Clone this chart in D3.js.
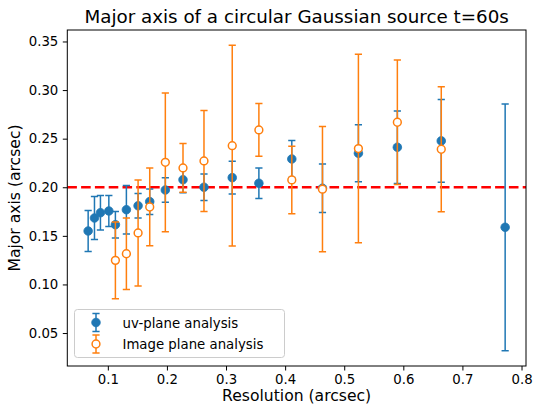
<!DOCTYPE html>
<html>
<head>
<meta charset="utf-8">
<script src="https://cdn.jsdelivr.net/npm/d3@7"></script>
<style>
  html, body { margin: 0; padding: 0; background: #fff; }
  svg { display: block; }
  text { font-family: "DejaVu Sans", sans-serif; fill: #000; }
</style>
</head>
<body>
<svg id="chart" width="535" height="408"></svg>
<script>
// Resolution (arcsec) of each uv-plane measurement
const uvResolution = [0.0667, 0.0774, 0.0875, 0.1017, 0.1128, 0.1314, 0.1512, 0.1709,
  0.1973, 0.2272, 0.2627, 0.3105, 0.3556, 0.4113, 0.4632, 0.524, 0.5899, 0.6642, 0.7723];
// Fitted major axis (arcsec) and 1-sigma error, uv-plane analysis
const uvMajor = [0.155, 0.1684, 0.1738, 0.1756, 0.1615, 0.1769, 0.181, 0.1852,
  0.1972, 0.2078, 0.200, 0.2099, 0.2041, 0.2291, 0.199, 0.235, 0.2412, 0.2477, 0.1588];
const uvError = [0.0211, 0.0221, 0.0177, 0.016, 0.0136, 0.025, 0.0126, 0.0131,
  0.0127, 0.0134, 0.0136, 0.0168, 0.0157, 0.019, 0.025, 0.0293, 0.0373, 0.0425, 0.127];

// Resolution (arcsec) of each image-plane measurement
const imgResolution = [0.1128, 0.1314, 0.1512, 0.1709, 0.1973, 0.2272, 0.2627, 0.3105,
  0.3556, 0.4113, 0.4632, 0.524, 0.5899, 0.6642];
// Fitted major axis (arcsec) and 1-sigma error, image-plane analysis
const imgMajor = [0.1248, 0.1316, 0.153, 0.1797, 0.2257, 0.2199, 0.2271, 0.2428,
  0.259, 0.2075, 0.198, 0.2398, 0.2669, 0.2391];
const imgError = [0.0395, 0.0368, 0.0545, 0.04, 0.0714, 0.025, 0.052, 0.1033,
  0.0271, 0.0347, 0.0644, 0.097, 0.064, 0.0642];

// True source size
const trueMajor = 0.2;

const xTicks = [0.1, 0.2, 0.3, 0.4, 0.5, 0.6, 0.7, 0.8];
const yTicks = [0.05, 0.10, 0.15, 0.20, 0.25, 0.30, 0.35];

const titleText = "Major axis of a circular Gaussian source t=60s";
const xLabel = "Resolution (arcsec)";
const yLabel = "Major axis (arcsec)";
const seriesNames = ["uv-plane analysis", "Image plane analysis"];

const BLUE = "#1f77b4", ORANGE = "#ff7f0e";

const uvData = uvResolution.map((x, i) => ({x, y: uvMajor[i], e: uvError[i]}));
const imgData = imgResolution.map((x, i) => ({x, y: imgMajor[i], e: imgError[i]}));

const plot = {left: 67.3, right: 526, top: 30, bottom: 366};

// Axis limits: data extent with a 5% margin on each side
function padded(lo, hi) { const p = (hi - lo) * 0.05; return [lo - p, hi + p]; }
const all = uvData.concat(imgData);
const xDom = padded(d3.min(all, d => d.x), d3.max(all, d => d.x));
const yDom = padded(d3.min(all, d => d.y - d.e), d3.max(all, d => d.y + d.e));

const x = d3.scaleLinear().domain(xDom).range([plot.left, plot.right]);
const y = d3.scaleLinear().domain(yDom).range([plot.bottom, plot.top]);

const svg = d3.select("#chart");

svg.append("defs").append("clipPath").attr("id", "plotclip")
  .append("rect").attr("x", plot.left).attr("y", plot.top)
  .attr("width", plot.right - plot.left).attr("height", plot.bottom - plot.top);

// Axes
const xAxis = d3.axisBottom(x).tickValues(xTicks).tickFormat(d3.format(".1f"))
  .tickSizeInner(4.5).tickSizeOuter(0).tickPadding(4.5);
const yAxis = d3.axisLeft(y).tickValues(yTicks).tickFormat(d3.format(".2f"))
  .tickSizeInner(4.5).tickSizeOuter(0).tickPadding(4.5);

const gx = svg.append("g").attr("transform", `translate(0,${plot.bottom})`).call(xAxis);
const gy = svg.append("g").attr("transform", `translate(${plot.left},0)`).call(yAxis);
[gx, gy].forEach(g => {
  g.select(".domain").remove();
  g.selectAll(".tick line").attr("stroke", "#000").attr("stroke-width", 1);
  g.selectAll(".tick text").attr("font-size", 13.3).attr("font-family", "DejaVu Sans").attr("fill", "#000");
});

const layer = svg.append("g").attr("clip-path", "url(#plotclip)");

// Reference line at the true size
layer.append("line")
  .attr("x1", plot.left).attr("x2", plot.right)
  .attr("y1", y(trueMajor)).attr("y2", y(trueMajor))
  .attr("stroke", "#ff0000").attr("stroke-width", 2.6)
  .attr("stroke-dasharray", "9.6,4.2");

const capHalf = 3.6;
function drawSeries(data, color, filled) {
  const g = layer.append("g");
  g.selectAll("line.bar").data(data).join("line").attr("class", "bar")
    .attr("x1", d => x(d.x)).attr("x2", d => x(d.x))
    .attr("y1", d => y(d.y - d.e)).attr("y2", d => y(d.y + d.e))
    .attr("stroke", color).attr("stroke-width", 1.5);
  ["lo", "hi"].forEach(k => {
    g.selectAll("line.cap" + k).data(data).join("line").attr("class", "cap" + k)
      .attr("x1", d => x(d.x) - capHalf).attr("x2", d => x(d.x) + capHalf)
      .attr("y1", d => y(k === "lo" ? d.y - d.e : d.y + d.e))
      .attr("y2", d => y(k === "lo" ? d.y - d.e : d.y + d.e))
      .attr("stroke", color).attr("stroke-width", 1.5);
  });
  g.selectAll("circle").data(data).join("circle")
    .attr("cx", d => x(d.x)).attr("cy", d => y(d.y))
    .attr("r", filled ? 4.3 : 3.9)
    .attr("fill", filled ? color : "#fff")
    .attr("stroke", color).attr("stroke-width", filled ? 0.8 : 1.5);
}
drawSeries(uvData, BLUE, true);
drawSeries(imgData, ORANGE, false);

// Frame
svg.append("rect").attr("x", plot.left).attr("y", plot.top)
  .attr("width", plot.right - plot.left).attr("height", plot.bottom - plot.top)
  .attr("fill", "none").attr("stroke", "#000").attr("stroke-width", 1);

// Title and axis labels
svg.append("text").attr("x", (plot.left + plot.right) / 2).attr("y", 23)
  .attr("text-anchor", "middle").attr("font-size", 18.3).text(titleText);
svg.append("text").attr("x", (plot.left + plot.right) / 2).attr("y", 401)
  .attr("text-anchor", "middle").attr("font-size", 15.6).text(xLabel);
svg.append("text")
  .attr("transform", `translate(20,${(plot.top + plot.bottom) / 2}) rotate(-90)`)
  .attr("text-anchor", "middle").attr("font-size", 15.6).text(yLabel);

// Legend
const leg = svg.append("g").attr("transform", "translate(74.5,309.5)");
leg.append("rect").attr("width", 210).attr("height", 48).attr("rx", 3)
  .attr("fill", "#fff").attr("fill-opacity", 0.8)
  .attr("stroke", "#cccccc").attr("stroke-width", 1);
const entries = [
  {name: seriesNames[0], color: BLUE, filled: true},
  {name: seriesNames[1], color: ORANGE, filled: false}
];
entries.forEach((en, i) => {
  const cy = 13 + i * 21.5;
  const hx = 21.5;
  const g = leg.append("g");
  g.append("line").attr("x1", hx).attr("x2", hx).attr("y1", cy - 9).attr("y2", cy + 9)
    .attr("stroke", en.color).attr("stroke-width", 1.5);
  [cy - 9, cy + 9].forEach(yy => g.append("line")
    .attr("x1", hx - capHalf).attr("x2", hx + capHalf).attr("y1", yy).attr("y2", yy)
    .attr("stroke", en.color).attr("stroke-width", 1.5));
  g.append("circle").attr("cx", hx).attr("cy", cy).attr("r", en.filled ? 4.3 : 3.9)
    .attr("fill", en.filled ? en.color : "#fff").attr("stroke", en.color)
    .attr("stroke-width", en.filled ? 0.8 : 1.5);
  g.append("text").attr("x", 48).attr("y", cy + 5).attr("font-size", 13.3).text(en.name);
});
</script>
</body>
</html>
